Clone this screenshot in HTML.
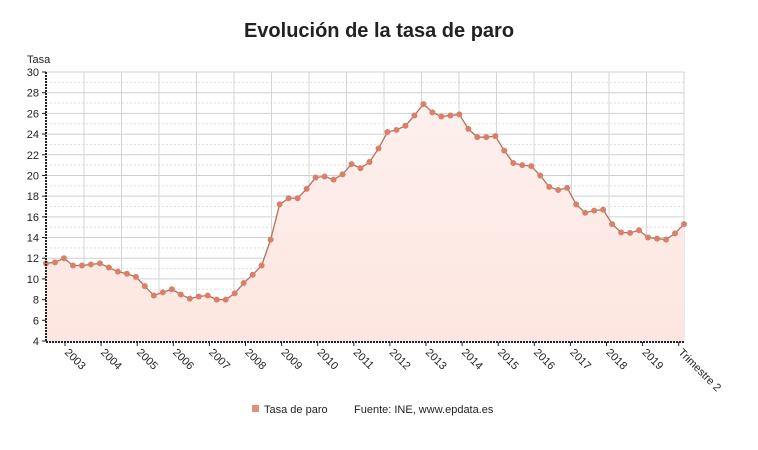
<!DOCTYPE html>
<html><head><meta charset="utf-8"><style>
body{margin:0;background:#fff;width:758px;height:445px;overflow:hidden;font-family:"Liberation Sans",sans-serif}
</style></head><body>
<svg width="758" height="445" xmlns="http://www.w3.org/2000/svg" font-family="Liberation Sans, sans-serif">
<defs><linearGradient id="g" x1="0" y1="0" x2="0" y2="1"><stop offset="0" stop-color="#fdf0ee"/><stop offset="1" stop-color="#fde6df"/></linearGradient></defs>
<text x="379" y="37" text-anchor="middle" font-size="20" font-weight="bold" fill="#222">Evolución de la tasa de paro</text>
<text x="27" y="63" font-size="11" fill="#222">Tasa</text>
<g id="grid"></g>
<g id="plot"></g>
<g id="labels" font-size="11" fill="#222"></g>
<rect x="252" y="405" width="7" height="7" fill="#e0907c"/>
<text x="264" y="413" font-size="11" fill="#222">Tasa de paro</text>
<text x="354" y="413" font-size="11" fill="#222">Fuente: INE, www.epdata.es</text>
</svg>
<script>
const v=[11.5,11.6,12.0,11.3,11.3,11.4,11.5,11.1,10.7,10.5,10.2,9.3,8.4,8.7,9.0,8.5,8.1,8.3,8.4,8.0,8.0,8.6,9.6,10.4,11.3,13.8,17.2,17.8,17.8,18.7,19.8,19.9,19.6,20.1,21.1,20.7,21.3,22.6,24.2,24.4,24.8,25.8,26.9,26.1,25.7,25.8,25.9,24.5,23.7,23.7,23.8,22.4,21.2,21.0,20.9,20.0,18.9,18.6,18.8,17.2,16.4,16.6,16.7,15.3,14.5,14.45,14.7,14.0,13.9,13.8,14.4,15.3];
const X=i=>46+i*638/71, Y=t=>341-(t-4)*269/26;
const ns="http://www.w3.org/2000/svg";
function el(p,n,a,txt){const e=document.createElementNS(ns,n);for(const k in a)e.setAttribute(k,a[k]);if(txt)e.textContent=txt;document.getElementById(p).appendChild(e);return e;}
for(let t=4;t<=30;t++){const y=Y(t);
 el("grid","line",{x1:46,x2:684,y1:y,y2:y,stroke:t%2?"#ddd":"#d0d0d0","stroke-width":1,"stroke-dasharray":t%2?"2,2":"none"});
 if(t%2==0){el("grid","text",{x:39,y:y+4,"text-anchor":"end","font-size":11,fill:"#222"},String(t));el("grid","line",{x1:42,x2:46,y1:y,y2:y,stroke:"#222"});}}
for(let k=0;k<=16;k++){const x=84+k*37.5;el("grid","line",{x1:x,x2:x,y1:72,y2:341,stroke:"#d4d4d4"});}
let d="M46,341";v.forEach((t,i)=>d+=" L"+X(i)+","+Y(t));d+=" L684,341Z";
el("plot","path",{d:d,fill:"url(#g)"});
el("plot","polyline",{points:v.map((t,i)=>X(i)+","+Y(t)).join(" "),fill:"none",stroke:"#b0705c","stroke-width":1.3});
v.forEach((t,i)=>el("plot","circle",{cx:X(i),cy:Y(t),r:3,fill:"#d9806a"}));
el("plot","line",{x1:46,x2:46,y1:72,y2:342,stroke:"#222","stroke-width":2,"stroke-dasharray":"2,1"});
el("plot","line",{x1:46,x2:685,y1:342,y2:342,stroke:"#222","stroke-width":2,"stroke-dasharray":"2,1"});
const labs=[];for(let y=2003;y<=2019;y++)labs.push(String(y));labs.push("Trimestre 2");
labs.forEach((s,i)=>{const x=65+i*36.1;el("plot","line",{x1:x,x2:x,y1:342,y2:346,stroke:"#222"});
 el("labels","text",{x:x-1,y:353,transform:`rotate(45 ${x-1} 353)`},s);});
</script>
</body></html>
